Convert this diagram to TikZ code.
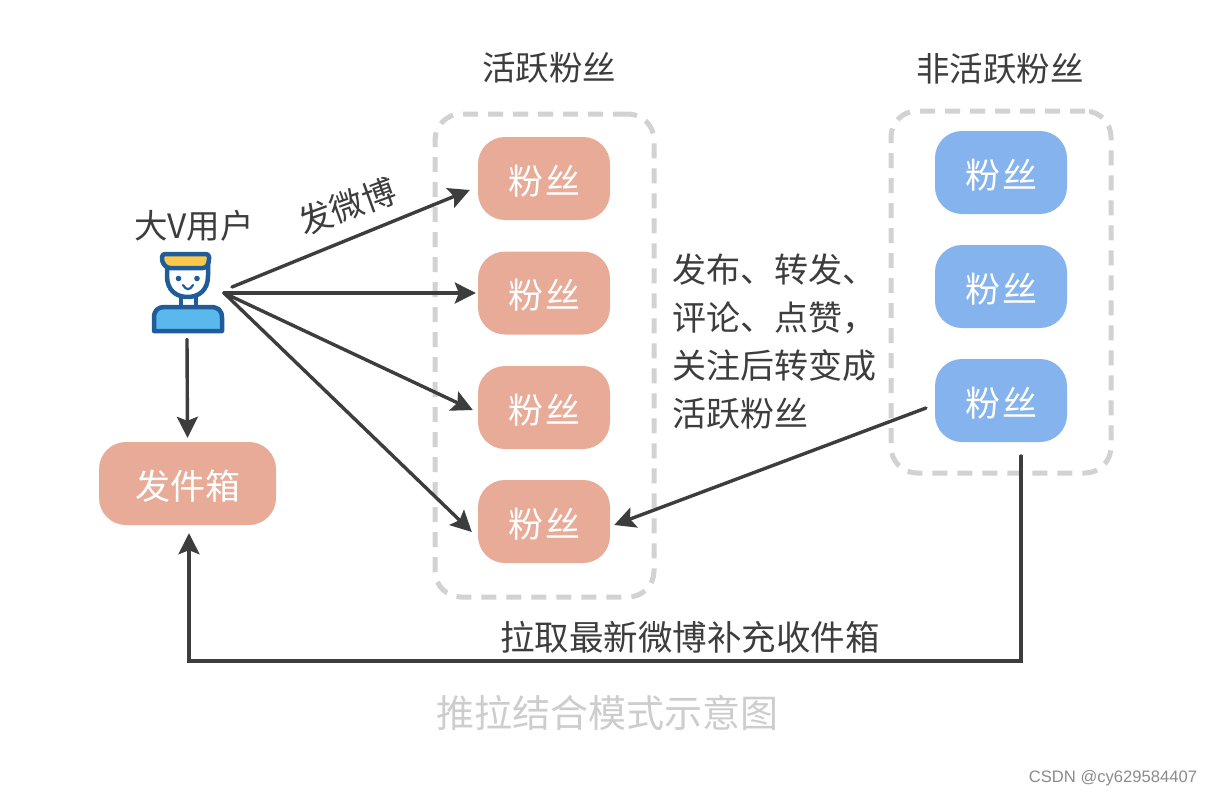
\documentclass[tikz,border=0pt]{standalone}
\usepackage{fontspec}
\setmainfont{Liberation Sans}
\newfontfamily\cjk{Noto Sans CJK SC}
\usetikzlibrary{arrows.meta}
\definecolor{pinkbox}{HTML}{E8AB98}
\definecolor{bluebox}{HTML}{85B3EE}
\definecolor{inkc}{HTML}{3D3D3D}
\definecolor{dashc}{HTML}{D2D2D2}
\definecolor{navyc}{HTML}{1F5C99}
\definecolor{skyc}{HTML}{5AB8EC}
\definecolor{hatc}{HTML}{FBC84B}
\definecolor{capc}{HTML}{CDCDCD}
\newcommand{\fantext}{粉\kern2pt 丝}
\tikzset{
  x=1pt,y=-1pt,
  fanbox/.style={rounded corners=27pt,minimum width=132pt,minimum height=83pt,inner sep=0pt,text=white,text height=34pt,text depth=3pt,font=\cjk\fontsize{35}{38}\selectfont},
  hotfan/.style={fanbox,fill=pinkbox},
  coldfan/.style={fanbox,fill=bluebox},
  group/.style={draw=dashc,line width=5pt,dash pattern=on 15pt off 10pt,rounded corners=26pt,minimum width=0pt,inner sep=0pt},
  label/.style={text=inkc,inner sep=0pt,font=\cjk\fontsize{33.5}{36}\selectfont},
  link/.style={draw=inkc,line width=3.4pt,line cap=round,-{Stealth[length=21pt,width=21pt,inset=4pt]}},
  iconline/.style={draw=navyc,line width=4.5pt,line join=round},
}
\begin{document}
\begin{tikzpicture}
\useasboundingbox[fill=white] (0,0) rectangle (1212,798);
% dashed groups
\node[group,minimum width=219pt,minimum height=483pt] (active) at (544.5,355.5) {};
\node[group,minimum width=220pt,minimum height=362pt] (inactive) at (1001,292) {};
% fans
\node[hotfan] (f1) at (544,178.5) {\fantext};
\node[hotfan] (f2) at (544,293) {\fantext};
\node[hotfan] (f3) at (544,407.5) {\fantext};
\node[hotfan] (f4) at (544,521.5) {\fantext};
\node[coldfan] (c1) at (1001,172.5) {\fantext};
\node[coldfan] (c2) at (1001,286.5) {\fantext};
\node[coldfan] (c3) at (1001,400.5) {\fantext};
\node[hotfan,minimum width=177pt] (outbox) at (187.5,483.5) {发件箱};
% titles
\node[label] (t1) at (549,68) {活跃粉丝};
\node[label] (t2) at (1000,69) {非活跃粉丝};
\node[label] (t3) at (194,226) {大V用户};
\node[label,rotate=20] (t4) at (347,206) {发微博};
\node[label,anchor=north west,align=left,font=\cjk\fontsize{34}{48}\selectfont] (t5) at (672,254) {发布、转发、\\评论、点赞，\\关注后转变成\\活跃粉丝};
\node[label,font=\cjk\fontsize{34.5}{36}\selectfont] (t6) at (690,637) {拉取最新微博补充收件箱};
\node[text=capc,inner sep=0pt,font=\cjk\fontsize{38}{40}\selectfont] (t7) at (607,713) {推拉结合模式示意图};
\node[text=black!45,inner sep=0pt,font=\fontsize{16.6}{20}\selectfont] (t8) at (1113,778) {CSDN @cy629584407};
% user icon
\node[inner sep=0pt,minimum width=72pt,minimum height=80pt] (user) at (188,293) {};
\draw[iconline,fill=white] (181,294) rectangle (196,307);
\draw[iconline,fill=white] (167,262) -- (167,276) .. controls (167,290) and (176,297) .. (187.5,297) .. controls (199,297) and (208,290) .. (208,276) -- (208,262) -- cycle;
\draw[iconline,fill=hatc,rounded corners=3pt] (162,254) -- (209,254) -- (209,262) -- (206,268) -- (167,268) -- (162,262) -- cycle;
\draw[iconline,fill=skyc] (154,331) -- (154,318) .. controls (154,310) and (158,307) .. (165,307) -- (210,307) .. controls (218,307) and (222,310) .. (222,318) -- (222,331) -- cycle;
\fill[navyc] (178.5,278.5) circle[radius=2.8] (197,278.5) circle[radius=2.8];
\draw[navyc,line width=2.2pt,line cap=round] (183,285) .. controls (186,290.5) and (190,290.5) .. (193,285);
% connectors
\coordinate (hubA) at (232,287);
\coordinate (hubB) at (224,293);
\draw[link] (hubA) -- ([xshift=-8pt,yshift=-11.5pt]f1.west);
\draw[link] (hubB) -- ([xshift=-2pt]f2.west);
\draw[link] (hubB) -- ([xshift=-5pt,yshift=-2.5pt]f3.west);
\draw[link] (hubB) -- ([xshift=-6pt,yshift=-10.5pt]f4.west);
\draw[link] ([xshift=-1pt,yshift=-6pt]user.south) -- ([yshift=4pt]outbox.north);
\coordinate (c3out) at (926,408);
\draw[link] (c3out) -- ([xshift=4pt,yshift=-3.5pt]f4.east);
\coordinate (pullA) at (1021,456);
\coordinate (pullB) at (1021,661);
\coordinate (pullC) at (189,661);
\draw[link] (pullA) -- (pullB) -- (pullC) -- ([xshift=1.5pt,yshift=-8pt]outbox.south);
\end{tikzpicture}
\end{document}
